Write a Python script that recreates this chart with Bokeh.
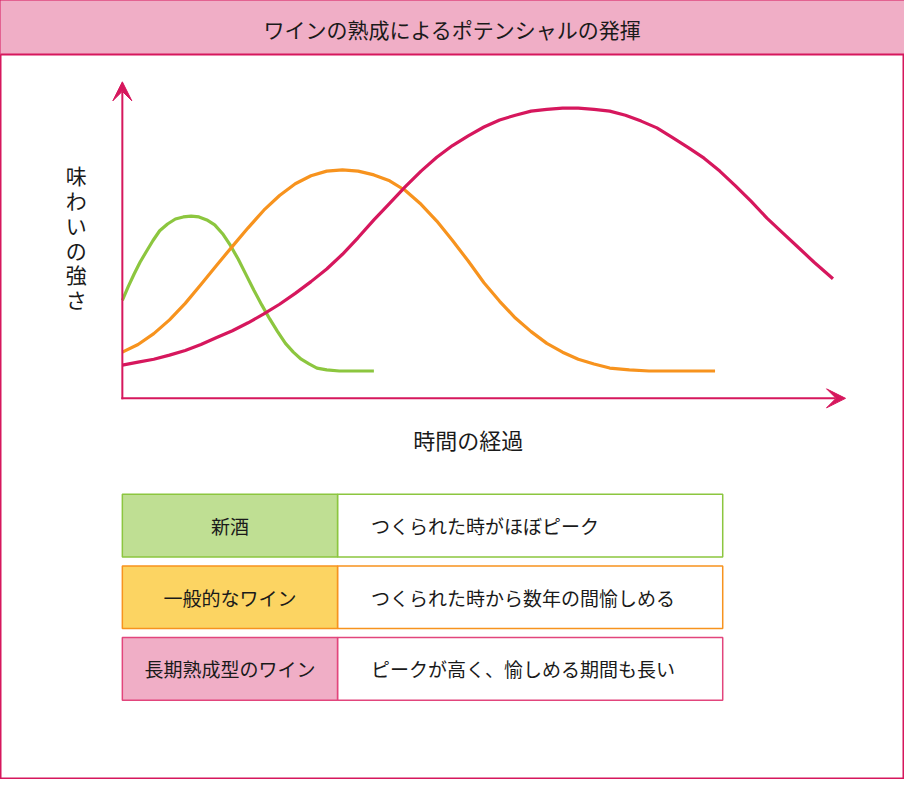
from bokeh.plotting import figure
from bokeh.models import Range1d, Arrow, VeeHead, ColumnDataSource
from bokeh.core.properties import value
from bokeh.embed import file_html
from bokeh.resources import INLINE

# ---------------- data ----------------
title_text = "ワインの熟成によるポテンシャルの発揮"
y_label = "味わいの強さ"
x_label = "時間の経過"

# time (arbitrary units) / strength (arbitrary units)
green_t = [0, 0.75, 1.5, 2.25, 3, 3.9, 4.75, 5.75, 6.75, 7.75, 8.75, 9.75, 10.75, 11.75,
           12.75, 13.75, 14.75, 15.75, 16.75, 17.75, 18.75, 19.75, 20.75, 21.75, 22.75,
           23.75, 24.75, 26, 27.6, 32]
green_s = [33.3, 38, 42.3, 46.3, 49.7, 53.7, 57, 59.3, 61, 61.7, 62, 61.7, 60.7, 59,
           56, 52, 47.3, 42, 36.7, 31.7, 27, 22.7, 18.7, 15.7, 13.3,
           11.7, 10.3, 9.7, 9.3, 9.3]

orange_t = [0, 2, 4, 6, 8, 10, 12, 14, 16, 18, 20, 22, 24, 26, 28, 30, 32, 34, 36, 38,
            40, 42, 44, 46, 48, 50, 52, 54, 56, 58, 60, 62, 64.5, 67, 75.4]
orange_s = [15.7, 18.3, 22, 26.7, 32.3, 38.7, 45.3, 51.7, 58, 64, 69, 73, 75.7, 77.3,
            77.7, 77.3, 76, 74, 70.7, 66, 60.3, 53.7, 46.7, 39.3, 33, 27.3, 22.7, 18.7,
            15.7, 13.3, 11.7, 10.3, 9.7, 9.3, 9.3]

red_t = [0, 2, 4, 6, 8, 10, 12, 14, 16, 18, 20, 22, 24, 26, 28, 30, 32, 34, 36, 38,
         40, 42, 44, 46, 48, 50, 52, 54, 56, 58, 60, 62, 64, 66, 68, 70, 72, 74, 76,
         78, 80, 82, 84, 86, 88, 90.4]
red_s = [11.3, 12.3, 13.3, 14.7, 16.3, 18.3, 20.7, 23, 25.7, 28.7, 32, 35.7, 39.7, 44,
         49, 54.7, 60.7, 66.3, 72, 77.3, 82, 86, 89.3, 92.3, 94.7, 96.3, 97.7, 98.3,
         98.7, 98.7, 98.3, 97.7, 96.3, 94.3, 92, 88.7, 85.3, 81.7, 77.3, 72.3, 67,
         61.3, 56.3, 51.3, 46.3, 40.7]

row_labels = ["新酒", "一般的なワイン", "長期熟成型のワイン"]
row_desc = ["つくられた時がほぼピーク", "つくられた時から数年の間愉しめる",
            "ピークが高く、愉しめる期間も長い"]

# ---------------- styles ----------------
CRIMSON = "#d6175d"
GREEN = "#8cc63f"
ORANGE = "#f7931e"
PINK_FILL = "#f0aec6"
row_fill = ["#bfdf93", "#fcd462", "#f0aec6"]
row_line = ["#8cc63f", "#f7931e", "#e2457c"]
FONT = value("Noto Sans CJK JP")

# layout in reference pixels (0..920 x 0..795), drawn into a 904x779 figure
REF_W, REF_H = 920, 795
W, H = 904, 779
ORIGIN_X, ORIGIN_Y = 124, 406
PX_PER_T, PX_PER_S = 8.0, 3.0

p = figure(width=W, height=H, x_range=Range1d(0, REF_W), y_range=Range1d(REF_H, 0),
           output_backend="svg", toolbar_location=None, min_border=0,
           x_axis_location=None, y_axis_location=None)
p.grid.visible = False
p.outline_line_color = CRIMSON
p.outline_line_width = 2
p.background_fill_color = "white"
p.border_fill_color = "white"

# chart data ranges (time / strength) mapped onto the same frame
p.extra_x_ranges = {"t": Range1d((0 - ORIGIN_X) / PX_PER_T, (REF_W - ORIGIN_X) / PX_PER_T)}
p.extra_y_ranges = {"s": Range1d((ORIGIN_Y - REF_H) / PX_PER_S, (ORIGIN_Y - 0) / PX_PER_S)}

# title bar
p.quad(left=[-5], right=[REF_W + 5], top=[-5], bottom=[55], fill_color=PINK_FILL,
       line_color=CRIMSON, line_width=2)
p.text(x=[460], y=[29], text=[title_text], text_font=FONT, text_font_size="21px",
       text_align="center", text_baseline="middle", text_color="#1a1a1a")

# curves
for tt, ss, col in [(green_t, green_s, GREEN), (orange_t, orange_s, ORANGE), (red_t, red_s, CRIMSON)]:
    p.line(tt, ss, line_color=col, line_width=3.2, x_range_name="t", y_range_name="s",
           line_join="round")

# axes with arrows
p.add_layout(Arrow(end=VeeHead(size=19, fill_color=CRIMSON, line_color=CRIMSON),
                   x_start=ORIGIN_X, y_start=ORIGIN_Y + 1, x_end=ORIGIN_X, y_end=83,
                   line_color=CRIMSON, line_width=2))
p.add_layout(Arrow(end=VeeHead(size=19, fill_color=CRIMSON, line_color=CRIMSON),
                   x_start=ORIGIN_X - 1, y_start=ORIGIN_Y, x_end=860, y_end=ORIGIN_Y,
                   line_color=CRIMSON, line_width=2))

# axis labels
chars = list(y_label)
p.text(x=[77] * len(chars), y=[178 + 25.4 * i for i in range(len(chars))], text=chars,
       text_font=FONT, text_font_size="21px", text_align="center", text_baseline="middle",
       text_color="#1a1a1a")
p.text(x=[476], y=[448], text=[x_label], text_font=FONT, text_font_size="22px",
       text_align="center", text_baseline="middle", text_color="#1a1a1a")

# table
row_top = [504, 577, 650]
row_h = 64
LEFT, MID, RIGHT = 124, 343, 735
src_l = ColumnDataSource(dict(left=[LEFT] * 3, right=[MID] * 3, top=row_top,
                              bottom=[t + row_h for t in row_top], fill=row_fill, line=row_line))
src_r = ColumnDataSource(dict(left=[MID] * 3, right=[RIGHT] * 3, top=row_top,
                              bottom=[t + row_h for t in row_top], line=row_line))
p.quad(left="left", right="right", top="top", bottom="bottom", source=src_r,
       fill_color="white", line_color="line", line_width=1.5)
p.quad(left="left", right="right", top="top", bottom="bottom", source=src_l,
       fill_color="fill", line_color="line", line_width=1.5)
p.text(x=[(LEFT + MID) / 2] * 3, y=[t + row_h / 2 for t in row_top], text=row_labels,
       text_font=FONT, text_font_size="19px", text_align="center", text_baseline="middle",
       text_color="#1a1a1a")
p.text(x=[377] * 3, y=[t + row_h / 2 for t in row_top], text=row_desc,
       text_font=FONT, text_font_size="19px", text_align="left", text_baseline="middle",
       text_color="#1a1a1a")

open("out.html", "w").write(file_html(p, INLINE))
